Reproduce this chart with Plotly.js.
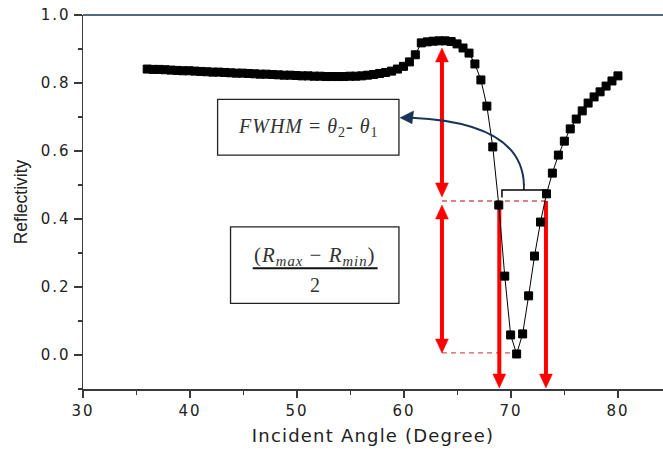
<!DOCTYPE html>
<html>
<head>
<meta charset="utf-8">
<script src="https://cdn.plot.ly/plotly-3.0.1.min.js"></script>
<style>
html,body{margin:0;padding:0;background:#fff;}
#chart{width:663px;height:453px;}
g.xtick > text, g.ytick > text { letter-spacing: 2px; }
text.xtitle { letter-spacing: 1.2px; }
text.annotation-text { letter-spacing: 1px; }
</style>
</head>
<body>
<div id="chart"></div>
<script>
// Incident angle (degree)
var angle = [36.00,36.56,37.11,37.67,38.23,38.79,39.34,39.90,40.46,41.01,41.57,42.13,42.68,43.24,43.80,44.35,44.91,45.47,46.03,46.58,47.14,47.70,48.25,48.81,49.37,49.92,50.48,51.04,51.59,52.15,52.71,53.27,53.82,54.38,54.94,55.49,56.05,56.61,57.16,57.72,58.28,58.84,59.39,59.95,60.51,61.06,61.62,62.18,62.73,63.29,63.85,64.41,64.96,65.52,66.08,66.63,67.19,67.75,68.30,68.86,69.42,69.97,70.53,71.09,71.65,72.20,72.76,73.32,73.87,74.43,74.99,75.54,76.10,76.66,77.21,77.77,78.33,78.89,79.44,80.00];
// Reflectivity
var reflectivity = [0.841,0.840,0.840,0.839,0.838,0.837,0.836,0.836,0.835,0.834,0.833,0.832,0.832,0.831,0.830,0.829,0.829,0.828,0.827,0.826,0.826,0.825,0.824,0.823,0.823,0.822,0.821,0.821,0.820,0.820,0.819,0.819,0.819,0.819,0.820,0.820,0.821,0.823,0.825,0.828,0.831,0.835,0.841,0.849,0.862,0.883,0.918,0.921,0.923,0.924,0.924,0.922,0.915,0.903,0.888,0.856,0.809,0.732,0.612,0.441,0.232,0.059,0.003,0.062,0.174,0.291,0.391,0.474,0.535,0.588,0.629,0.665,0.694,0.718,0.741,0.759,0.774,0.791,0.806,0.821];

// Key levels / angles of the annotation
var peakAngle = 63.55;
var rMaxTip = 0.903;
var halfLevel = 0.453;
var rMinLevel = 0.006;
var theta1 = 68.91;
var theta2 = 73.27;

var RED = '#ff0000';
var NAVY = '#1b3358';
var DASH = '#d05a5a';

// arrow head size in data units
var hw = 0.6, hh = 0.041;
function tri(x, tipY, dir) { // dir = +1 points up, -1 points down
  var b = tipY - dir*hh;
  return 'M ' + x + ',' + tipY + ' L ' + (x-hw) + ',' + b + ' L ' + (x+hw) + ',' + b + ' Z';
}
function redLine(x, y0, y1) {
  return {type:'line', xref:'x', yref:'y', x0:x, x1:x, y0:y0, y1:y1, line:{color:RED, width:4}, layer:'below'};
}
function redTri(x, tipY, dir) {
  return {type:'path', xref:'x', yref:'y', path:tri(x, tipY, dir), fillcolor:RED, line:{color:RED, width:0.5}, layer:'below'};
}

var shapes = [
  // top border
  {type:'line', xref:'paper', yref:'paper', x0:0, x1:1, y0:1, y1:1, line:{color:NAVY, width:1.5}},
  // dashed levels
  {type:'line', xref:'x', yref:'y', x0:peakAngle, x1:theta2, y0:halfLevel, y1:halfLevel, line:{color:DASH, width:1.3, dash:'5px,4px'}, layer:'below'},
  {type:'line', xref:'x', yref:'y', x0:peakAngle, x1:70.4, y0:rMinLevel, y1:rMinLevel, line:{color:DASH, width:1.3, dash:'5px,4px'}, layer:'below'},
  // upper double arrow
  redLine(peakAngle, rMaxTip - hh, 0.465 + hh),
  redTri(peakAngle, rMaxTip, 1),
  redTri(peakAngle, 0.465, -1),
  // lower double arrow
  redLine(peakAngle, 0.441 - hh, rMinLevel + hh),
  redTri(peakAngle, 0.441, 1),
  redTri(peakAngle, rMinLevel, -1),
  // theta arrows
  redLine(theta1, halfLevel, -0.097 + hh),
  redTri(theta1, -0.097, -1),
  redLine(theta2, halfLevel, -0.097 + hh),
  redTri(theta2, -0.097, -1),
  // brace
  {type:'path', xref:'x', yref:'y', path:'M 69.16,0.463 L 69.16,0.485 L 73.27,0.485 L 73.27,0.463', line:{color:'#000', width:1.5}},
  {type:'path', xref:'x', yref:'y', path:'M 71.21,0.485 L 71.21,0.503', line:{color:'#000', width:1.5}},
  // curved navy arrow
  {type:'path', xref:'x', yref:'y', path:'M 71.21,0.500 C 71.10,0.640 66.50,0.690 60.70,0.698', line:{color:NAVY, width:2}},
  {type:'path', xref:'x', yref:'y', path:'M 59.63,0.698 L 60.90,0.718 L 60.75,0.680 Z', fillcolor:NAVY, line:{color:NAVY, width:0.5}},
  // boxes
  {type:'rect', xref:'x', yref:'y', x0:42.58, x1:59.53, y0:0.588, y1:0.752, line:{color:'#222', width:1.3}, fillcolor:'rgba(255,255,255,0)'},
  {type:'rect', xref:'x', yref:'y', x0:43.79, x1:59.53, y0:0.152, y1:0.377, line:{color:'#222', width:1.3}, fillcolor:'rgba(255,255,255,0)'},
  // fraction bar
  {type:'line', xref:'x', yref:'y', x0:45.86, x1:57.54, y0:0.255, y1:0.255, line:{color:'#111', width:2}}
];

var mathFont = {family:'Liberation Serif, DejaVu Serif, serif', size:20, color:'#333'};
var annotations = [
  {xref:'x', yref:'y', x:51.05, y:0.670, text:'<i>FWHM</i> = <i>θ</i><sub>2</sub>- <i>θ</i><sub>1</sub>', showarrow:false, font:mathFont},
  {xref:'x', yref:'y', x:51.70, y:0.290, text:'(<i>R</i><sub><i>max</i></sub> − <i>R</i><sub><i>min</i></sub>)', showarrow:false, font:{family:'Liberation Serif, DejaVu Serif, serif', size:21, color:'#333'}},
  {xref:'x', yref:'y', x:51.70, y:0.207, text:'2', showarrow:false, font:mathFont},
  {xref:'x', yref:'y', x:theta1 + 0.2, y:-0.158, text:'<i>θ</i><sub>1</sub>', showarrow:false, font:{family:'Liberation Serif, DejaVu Serif, serif', size:21, color:'#111'}},
  {xref:'x', yref:'y', x:theta2 + 0.2, y:-0.158, text:'<i>θ</i><sub>2</sub>', showarrow:false, font:{family:'Liberation Serif, DejaVu Serif, serif', size:21, color:'#111'}}
];

var trace = {
  x: angle, y: reflectivity, type:'scatter', mode:'lines+markers',
  line:{color:'#000', width:1},
  marker:{symbol:'square', size:8, color:'#000', line:{color:'#000', width:1}},
  cliponaxis:false, hoverinfo:'skip'
};

var axisFont = {family:'DejaVu Sans, Liberation Sans, sans-serif', size:15, color:'#222'};
var layout = {
  width:663, height:453,
  margin:{l:83, r:0, t:15, b:64, pad:0},
  paper_bgcolor:'#fff', plot_bgcolor:'#fff',
  showlegend:false,
  xaxis:{
    range:[30, 84.21], showgrid:false, zeroline:false,
    showline:true, linecolor:'#3a3a3a', linewidth:1.5,
    ticks:'outside', ticklen:7, tickwidth:1.5, tickcolor:'#3a3a3a',
    dtick:10, tick0:0, tickfont:axisFont,
    minor:{dtick:5, ticks:'outside', ticklen:4, tickwidth:1.2, tickcolor:'#3a3a3a'},
    title:{text:'Incident Angle (Degree)', font:{family:'DejaVu Sans, Liberation Sans, sans-serif', size:18, color:'#222'}, standoff:11}
  },
  yaxis:{
    range:[-0.1, 1.0], showgrid:false, zeroline:false,
    showline:true, linecolor:'#3a3a3a', linewidth:1.5,
    ticks:'outside', ticklen:8, tickwidth:1.5, tickcolor:'#3a3a3a',
    dtick:0.2, tick0:0, tickformat:'.1f', tickfont:axisFont,
    minor:{dtick:0.1, ticks:'outside', ticklen:4, tickwidth:1.2, tickcolor:'#3a3a3a'},
    title:{text:'Reflectivity', font:{family:'Liberation Sans, Arial, sans-serif', size:17.5, color:'#222'}, standoff:8}
  },
  shapes: shapes,
  annotations: annotations
};

Plotly.newPlot('chart', [trace], layout, {staticPlot:true, displayModeBar:false});
</script>
</body>
</html>
